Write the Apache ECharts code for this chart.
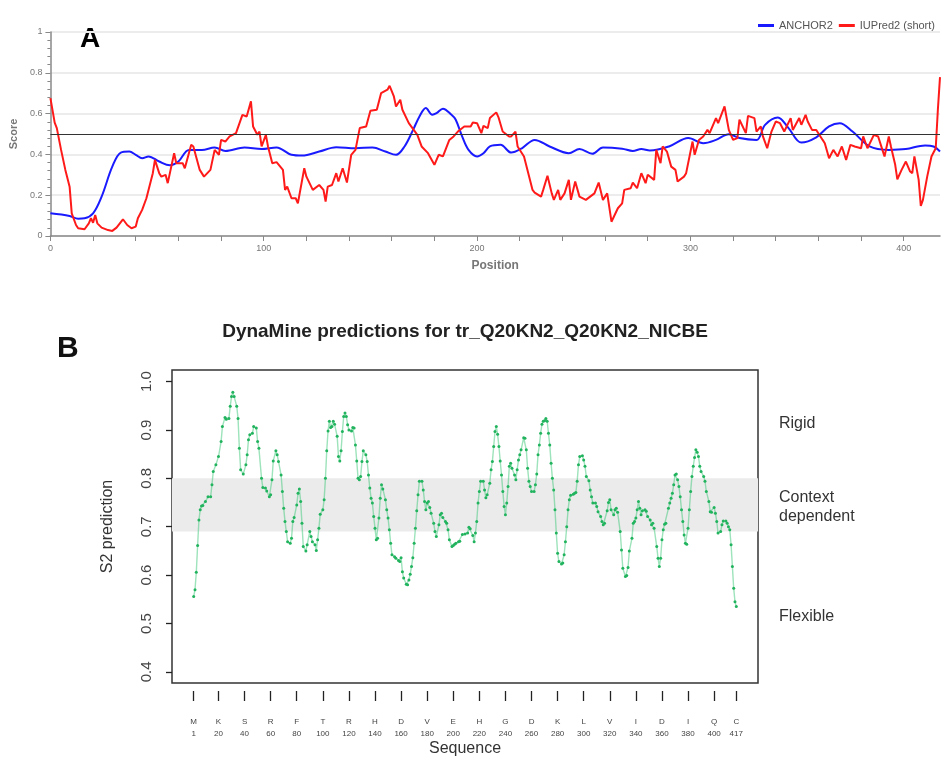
<!DOCTYPE html>
<html><head><meta charset="utf-8">
<script src="https://cdn.jsdelivr.net/npm/echarts/dist/echarts.min.js"></script>
<style>html,body{margin:0;padding:0;background:#fff}#c{width:943px;height:758px}</style>
</head><body><div id="c"></div>
<script>
// ---- Panel A: ANCHOR2 ----
const anchorPos = [0,9,13,16,20,24,29,33,37,40,43,46,51,56,60,65,71,77,82,91,99,106,113,118,126,134,143,151,157,162,166,170,173,176,179,181,184,188,190,193,196,200,203,206,211,216,221,227,234,243,248,254,259,268,273,277,281,290,299,306,312,318,323,331,335,341,346,352,359,365,370,376,384,393,401,410,414,417];
const anchorScore = [0.111,0.098,0.085,0.087,0.111,0.193,0.34,0.409,0.414,0.398,0.381,0.39,0.365,0.347,0.365,0.422,0.422,0.434,0.417,0.434,0.426,0.434,0.398,0.394,0.414,0.435,0.43,0.434,0.414,0.398,0.439,0.52,0.586,0.627,0.594,0.602,0.624,0.594,0.57,0.488,0.422,0.39,0.406,0.439,0.447,0.409,0.43,0.471,0.439,0.406,0.426,0.403,0.434,0.428,0.417,0.426,0.419,0.439,0.48,0.455,0.471,0.499,0.48,0.471,0.545,0.581,0.529,0.458,0.484,0.537,0.553,0.512,0.439,0.422,0.426,0.444,0.439,0.414];

// ---- Panel A: IUPred2 (short) ----
const iupredPos = [0,2,3,5,7,9,10,12,13,16,18,19,20,21,22,24,27,29,31,34,36,38,40,41,43,45,48,49,51,52,54,55,58,59,62,63,66,67,70,72,75,77,79,80,82,84,87,90,92,94,95,97,98,99,101,102,104,106,109,110,111,113,115,116,119,120,123,126,128,129,130,132,134,135,137,139,141,143,145,148,150,153,155,158,159,161,162,164,165,168,172,174,177,180,182,184,187,189,191,194,197,198,200,202,203,205,206,209,210,212,215,216,218,219,222,224,226,227,230,231,233,235,236,238,239,241,243,244,246,248,251,253,255,257,259,261,263,266,268,269,272,273,275,277,279,280,283,284,286,287,289,291,293,294,297,298,301,302,304,306,308,309,312,313,316,318,320,322,323,326,327,330,331,333,334,336,338,340,342,344,347,348,351,352,354,355,357,359,362,363,365,367,369,371,373,375,377,380,381,383,386,388,390,391,393,394,396,397,399,401,403,404,405,407,408,409,411,413,415,416,417];
const iupredScore = [0.676,0.556,0.529,0.422,0.324,0.242,0.111,0.054,0.038,0.033,0.062,0.087,0.065,0.103,0.062,0.041,0.029,0.025,0.041,0.082,0.054,0.038,0.046,0.087,0.128,0.185,0.308,0.373,0.308,0.291,0.3,0.259,0.406,0.357,0.357,0.332,0.447,0.439,0.324,0.291,0.324,0.422,0.398,0.471,0.463,0.488,0.504,0.594,0.586,0.66,0.537,0.496,0.512,0.439,0.496,0.439,0.357,0.362,0.324,0.226,0.242,0.185,0.185,0.16,0.332,0.291,0.226,0.25,0.226,0.169,0.242,0.25,0.308,0.267,0.332,0.262,0.398,0.422,0.529,0.537,0.614,0.619,0.70,0.717,0.736,0.684,0.635,0.668,0.619,0.553,0.496,0.439,0.406,0.349,0.398,0.39,0.471,0.488,0.512,0.537,0.537,0.556,0.553,0.504,0.54,0.529,0.578,0.606,0.583,0.512,0.488,0.488,0.512,0.439,0.39,0.308,0.226,0.213,0.193,0.226,0.295,0.209,0.177,0.226,0.177,0.209,0.275,0.177,0.267,0.193,0.177,0.193,0.209,0.262,0.177,0.209,0.07,0.136,0.16,0.226,0.234,0.262,0.234,0.308,0.259,0.3,0.275,0.422,0.357,0.439,0.414,0.34,0.324,0.267,0.291,0.308,0.463,0.398,0.471,0.488,0.52,0.504,0.578,0.553,0.635,0.52,0.471,0.48,0.57,0.504,0.589,0.578,0.512,0.537,0.488,0.43,0.512,0.561,0.553,0.512,0.578,0.52,0.578,0.545,0.594,0.561,0.52,0.52,0.471,0.455,0.381,0.422,0.39,0.439,0.373,0.447,0.439,0.43,0.488,0.43,0.496,0.488,0.422,0.39,0.488,0.439,0.349,0.278,0.324,0.365,0.316,0.308,0.39,0.275,0.147,0.177,0.291,0.39,0.43,0.619,0.779];

// ---- Panel B: DynaMine S2 ----
const dynPos = [1,2,3,4,5,6,7,8,10,12,14,15,16,18,20,22,23,25,26,28,29,30,31,32,34,35,36,37,39,41,42,43,44,46,47,49,50,51,53,54,56,57,59,60,61,62,64,65,66,68,69,70,71,72,73,75,76,77,78,80,81,82,83,84,85,87,88,90,91,92,94,95,96,97,98,100,101,102,103,104,105,106,107,108,109,111,112,113,114,115,116,117,118,119,120,122,123,124,125,126,127,128,129,130,131,133,134,135,136,137,138,139,140,141,142,143,144,145,146,148,149,150,151,152,153,155,156,158,159,160,161,162,164,165,166,167,168,169,170,171,172,173,174,176,177,178,179,180,181,182,183,185,186,187,189,190,191,192,194,195,196,197,199,200,201,202,204,205,207,209,211,212,213,215,216,217,218,219,220,221,223,224,225,226,228,229,230,231,232,233,234,235,236,237,238,239,240,241,242,243,244,245,247,248,249,250,251,252,254,255,256,257,258,259,260,262,263,264,265,266,267,268,269,270,271,272,273,274,275,276,277,278,279,280,281,283,284,285,286,287,288,289,290,292,293,294,295,296,297,299,300,301,302,304,305,306,307,309,310,311,313,314,315,316,318,319,320,321,323,324,325,326,328,329,330,332,333,334,335,337,338,339,340,341,342,343,344,345,347,348,349,351,352,353,354,356,357,358,359,360,361,362,363,365,366,367,368,369,370,371,372,373,374,375,376,377,378,379,380,381,382,383,384,385,386,387,388,389,390,392,393,394,396,397,398,400,401,402,403,405,406,407,409,410,411,412,413,414,415,416,417];
const dynS2 = [0.556,0.57,0.606,0.661,0.714,0.735,0.743,0.744,0.752,0.762,0.762,0.787,0.814,0.828,0.845,0.876,0.907,0.926,0.922,0.924,0.949,0.969,0.978,0.969,0.949,0.924,0.862,0.818,0.809,0.828,0.849,0.88,0.89,0.893,0.907,0.904,0.876,0.862,0.80,0.781,0.78,0.774,0.762,0.766,0.797,0.836,0.857,0.849,0.835,0.807,0.773,0.738,0.711,0.69,0.669,0.666,0.676,0.711,0.719,0.745,0.769,0.778,0.752,0.707,0.659,0.65,0.663,0.69,0.68,0.669,0.663,0.651,0.673,0.697,0.726,0.735,0.756,0.80,0.857,0.898,0.918,0.905,0.907,0.918,0.912,0.887,0.845,0.836,0.857,0.897,0.928,0.935,0.928,0.911,0.90,0.898,0.905,0.904,0.869,0.836,0.80,0.797,0.804,0.835,0.857,0.849,0.835,0.807,0.78,0.759,0.749,0.721,0.697,0.673,0.676,0.718,0.759,0.787,0.778,0.756,0.735,0.718,0.694,0.666,0.642,0.638,0.635,0.63,0.628,0.636,0.607,0.594,0.581,0.58,0.59,0.602,0.618,0.636,0.666,0.697,0.733,0.766,0.794,0.794,0.776,0.752,0.735,0.749,0.752,0.74,0.728,0.707,0.69,0.68,0.704,0.725,0.728,0.719,0.711,0.707,0.694,0.673,0.659,0.661,0.664,0.666,0.669,0.67,0.684,0.685,0.687,0.699,0.696,0.682,0.669,0.687,0.711,0.749,0.773,0.794,0.794,0.776,0.76,0.766,0.79,0.818,0.835,0.866,0.897,0.907,0.891,0.866,0.836,0.807,0.773,0.742,0.725,0.749,0.783,0.825,0.831,0.821,0.807,0.797,0.818,0.838,0.849,0.859,0.884,0.883,0.859,0.821,0.794,0.783,0.773,0.773,0.787,0.809,0.849,0.869,0.893,0.912,0.918,0.919,0.924,0.918,0.893,0.869,0.831,0.80,0.776,0.735,0.687,0.645,0.628,0.623,0.625,0.642,0.669,0.70,0.735,0.756,0.765,0.767,0.769,0.771,0.794,0.828,0.845,0.847,0.838,0.825,0.804,0.795,0.776,0.762,0.749,0.749,0.742,0.731,0.721,0.711,0.704,0.707,0.733,0.75,0.756,0.735,0.725,0.735,0.738,0.73,0.69,0.652,0.614,0.597,0.599,0.616,0.65,0.676,0.707,0.711,0.718,0.735,0.752,0.738,0.725,0.733,0.735,0.732,0.721,0.714,0.704,0.707,0.697,0.659,0.635,0.618,0.635,0.673,0.694,0.705,0.707,0.738,0.749,0.759,0.769,0.787,0.807,0.809,0.797,0.783,0.762,0.735,0.711,0.683,0.666,0.664,0.697,0.735,0.773,0.804,0.825,0.843,0.859,0.854,0.845,0.825,0.814,0.804,0.794,0.773,0.752,0.731,0.73,0.74,0.728,0.711,0.687,0.69,0.704,0.712,0.712,0.707,0.70,0.694,0.663,0.618,0.573,0.545,0.535];

// ---- tick labels ----
const seqTickPos = [1,20,40,60,80,100,120,140,160,180,200,220,240,260,280,300,320,340,360,380,400,417];
const seqTickAA = ['M','K','S','R','F','T','R','H','D','V','E','H','G','D','K','L','V','I','D','I','Q','C'];
const s2Ticks = [0.4,0.5,0.6,0.7,0.8,0.9,1.0];
const regionLabels = ['Rigid','Context\ndependent','Flexible'];
const bandRange = [0.69, 0.80];
const thresholdA = 0.5;

const zip = (a, b) => a.map((x, i) => [x, b[i]]);
const FONT = '"Liberation Sans", Arial, sans-serif';

const chart = echarts.init(document.getElementById('c'), null, {renderer: 'canvas'});
chart.setOption({
  animation: false,
  textStyle: {fontFamily: FONT},
  legend: {
    data: [{name: 'ANCHOR2', icon: 'rect'}, {name: 'IUPred2 (short)', icon: 'rect'}],
    right: 3, top: 15, itemWidth: 16, itemHeight: 3, itemGap: 6,
    textStyle: {fontSize: 11, color: '#555', fontFamily: FONT}
  },
  grid: [
    {left: 48, top: 32, width: 892, height: 204},
    {left: 172, top: 370, width: 586, height: 313, show: true, borderColor: '#333', borderWidth: 1.5, backgroundColor: 'transparent'}
  ],
  xAxis: [
    {gridIndex: 0, type: 'value', min: 0, max: 417, interval: 20,
     axisLine: {show: true, onZero: false, lineStyle: {color: '#888', width: 1.5}},
     axisTick: {show: true, length: 5, lineStyle: {color: '#888'}},
     axisLabel: {color: '#777', fontSize: 9, margin: 8, showMaxLabel: false,
       formatter: v => (v % 100 === 0 ? String(v) : '')},
     splitLine: {show: false},
     name: 'Position', nameLocation: 'middle', nameGap: 24,
     nameTextStyle: {fontWeight: 'bold', fontSize: 12, color: '#777'}},
    {gridIndex: 1, type: 'value', min: -15.64, max: 433.64, offset: 8,
     axisLine: {show: false, onZero: false},
     axisTick: {show: true, length: 10, customValues: seqTickPos, lineStyle: {color: '#222', width: 1.3}},
     axisLabel: {customValues: seqTickPos, fontSize: 8, color: '#444', lineHeight: 12, margin: 25,
       formatter: v => { const i = seqTickPos.indexOf(v); return i >= 0 ? seqTickAA[i] + '\n' + v : ''; }},
     splitLine: {show: false},
     name: 'Sequence', nameLocation: 'middle', nameGap: 50,
     nameTextStyle: {fontSize: 16, color: '#333'}}
  ],
  yAxis: [
    {gridIndex: 0, type: 'value', min: 0, max: 1, interval: 0.2,
     axisLine: {show: true, onZero: false, lineStyle: {color: '#888', width: 1.5}},
     axisTick: {show: true, length: 5, lineStyle: {color: '#888'}},
     minorTick: {show: true, splitNumber: 5, length: 3, lineStyle: {color: '#888'}},
     axisLabel: {color: '#777', fontSize: 9, margin: 8, formatter: v => String(+v.toFixed(1))},
     splitLine: {show: true, lineStyle: {color: '#ececec', width: 2}},
     name: 'Score', nameLocation: 'middle', nameGap: 26,
     nameTextStyle: {fontWeight: 'bold', fontSize: 11, color: '#777'}},
    {gridIndex: 1, type: 'value', min: 0.377, max: 1.024,
     axisLine: {show: false, onZero: false},
     axisTick: {show: true, length: 6, customValues: s2Ticks, lineStyle: {color: '#222', width: 1.3}},
     axisLabel: {customValues: s2Ticks, rotate: 90, fontSize: 15, color: '#444', margin: 18,
       formatter: v => Number(v).toFixed(1)},
     splitLine: {show: false},
     name: 'S2 prediction', nameLocation: 'middle', nameGap: 56,
     nameTextStyle: {fontSize: 16, color: '#333'}}
  ],
  series: [
    {name: 'ANCHOR2', type: 'line', xAxisIndex: 0, yAxisIndex: 0,
     data: zip(anchorPos, anchorScore), symbol: 'none', smooth: 0.35,
     lineStyle: {color: '#1a1aff', width: 2}, itemStyle: {color: '#1a1aff'}},
    {name: 'IUPred2 (short)', type: 'line', xAxisIndex: 0, yAxisIndex: 0,
     data: zip(iupredPos, iupredScore), symbol: 'none',
     lineStyle: {color: '#ff1a1a', width: 2}, itemStyle: {color: '#ff1a1a'},
     markLine: {silent: true, symbol: 'none', label: {show: false},
       lineStyle: {color: '#333', width: 1.2, type: 'solid'}, data: [{yAxis: thresholdA}]}},
    {name: 'S2', type: 'line', xAxisIndex: 1, yAxisIndex: 1,
     data: zip(dynPos, dynS2), symbol: 'circle', symbolSize: 3, showSymbol: true,
     lineStyle: {color: 'rgba(60,200,120,0.5)', width: 1.4}, itemStyle: {color: '#22b35e'},
     markArea: {silent: true, itemStyle: {color: '#ebebeb'},
       data: [[{yAxis: bandRange[0]}, {yAxis: bandRange[1]}]]}}
  ],
  graphic: [
    {type: 'text', x: 80, y: 39, style: {text: 'A', font: 'bold 28px "Liberation Sans", Arial', fill: '#000', textVerticalAlign: 'middle'}},
    {type: 'text', x: 57, y: 349, style: {text: 'B', font: 'bold 30px "Liberation Sans", Arial', fill: '#111', textVerticalAlign: 'middle'}},
    {type: 'text', x: 465, y: 332, style: {text: 'DynaMine predictions for tr_Q20KN2_Q20KN2_NICBE', font: 'bold 19px "Liberation Sans", Arial', fill: '#222', textAlign: 'center', textVerticalAlign: 'middle'}},
    {type: 'text', x: 779, y: 424, style: {text: regionLabels[0], font: '16px "Liberation Sans", Arial', fill: '#333', textVerticalAlign: 'middle'}},
    {type: 'text', x: 779, y: 507, style: {text: regionLabels[1], font: '16px "Liberation Sans", Arial', lineHeight: 19, fill: '#333', textVerticalAlign: 'middle'}},
    {type: 'text', x: 779, y: 617, style: {text: regionLabels[2], font: '16px "Liberation Sans", Arial', fill: '#333', textVerticalAlign: 'middle'}}
  ]
});
</script>
</body></html>
